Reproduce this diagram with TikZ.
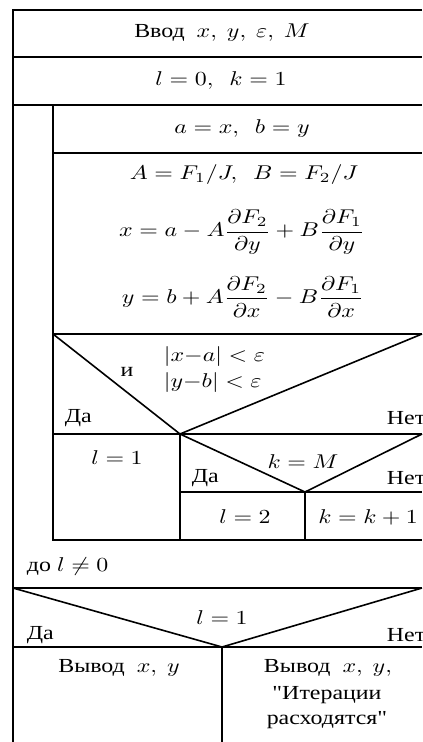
\documentclass[tikz,border=0pt]{standalone}
\usepackage{fontspec}
\setmainfont{Liberation Serif}[Ligatures=TeXOff]
\newcommand{\mth}[1]{$#1$}
\begin{document}
\begin{tikzpicture}[x=1bp,y=-1bp,line width=1.6bp,
  txt/.style={inner sep=0pt,font=\normalsize,xscale=2.4,yscale=2.0,transform shape},
  lft/.style={txt,anchor=west}]
\useasboundingbox (0,0) rectangle (422,742);
\fill[white] (0,0) rectangle (422,742);
% outer frame
\draw (422,10) -- (13,10) -- (13,742);
\draw (13,57) -- (422,57);
\draw (13,105) -- (422,105);
% loop body
\draw (53,105) -- (53,540) -- (422,540);
\draw (53,153) -- (422,153);
\draw (53,334) -- (422,334);
\draw (53,334) -- (180,434) -- (422,334);
\draw (53,434) -- (422,434);
\draw (180,434) -- (180,540);
\draw (180,434) -- (305,492) -- (422,434);
\draw (180,492) -- (422,492);
\draw (305,492) -- (305,540);
% final decision
\draw (13,588) -- (422,588);
\draw (13,588) -- (222,647) -- (422,588);
\draw (13,647) -- (422,647);
\draw (222,647) -- (222,742);
% texts
\node[txt] (in) at (222,33) {Ввод\ \ \mth{x,\ y,\ \varepsilon,\ M}};
\node[txt] (init) at (221,81) {\mth{l=0,\ \ k=1}};
\node[txt] (ab) at (242,129) {\mth{a=x,\ \ b=y}};
\node[txt] (AB) at (244,175) {\mth{A=F_1/J,\ \ B=F_2/J}};
\node[txt] (xf) at (242,232) {\mth{\displaystyle x=a-A\frac{\partial F_2}{\partial y}+B\frac{\partial F_1}{\partial y}}};
\node[txt] (yf) at (243,297) {\mth{\displaystyle y=b+A\frac{\partial F_2}{\partial x}-B\frac{\partial F_1}{\partial x}}};
\node[txt] (and) at (127,372) {и};
\node[lft] (c1) at (162,357) {\mth{|x{-}a|<\varepsilon}};
\node[lft] (c2) at (162,383) {\mth{|y{-}b|<\varepsilon}};
\node[lft] (yes1) at (63,418) {Да};
\node[lft] (no1) at (385,418) {Нет};
\node[txt] (l1) at (117,458) {\mth{l=1}};
\node[txt] (kM) at (303,462) {\mth{k=M}};
\node[lft] (yes2) at (190,478) {Да};
\node[lft] (no2) at (385,478) {Нет};
\node[txt] (l2) at (245,517) {\mth{l=2}};
\node[txt] (kk) at (368,517) {\mth{k=k+1}};
\node[lft] (until) at (25,567) {до \mth{l\neq0}};
\node[txt] (l1b) at (222,618) {\mth{l=1}};
\node[lft] (yes3) at (25,635) {Да};
\node[lft] (no3) at (385,635) {Нет};
\node[txt] (out1) at (119,668) {Вывод\ \ \mth{x,\ y}};
\node[txt] (out2) at (328,668) {Вывод\ \ \mth{x,\ y,}};
\node[txt] (out3) at (327,695) {"Итерации};
\node[txt] (out4) at (327,720) {расходятся"};
\end{tikzpicture}
\end{document}
